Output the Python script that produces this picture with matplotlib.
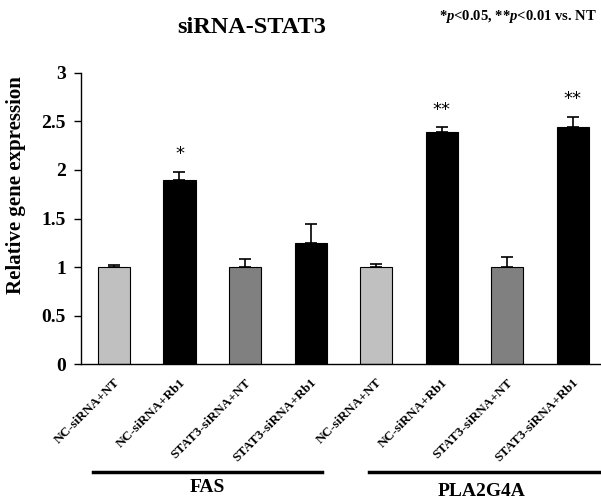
import numpy as np
import matplotlib
matplotlib.use("Agg")
import matplotlib.pyplot as plt

plt.rcParams['font.family'] = ['Liberation Serif', 'DejaVu Serif']
plt.rcParams['font.weight'] = 'bold'
plt.rcParams['mathtext.fontset'] = 'custom'
plt.rcParams['mathtext.it'] = 'Liberation Serif:italic:bold'

labels = ['NC-siRNA+NT', 'NC-siRNA+Rb1', 'STAT3-siRNA+NT', 'STAT3-siRNA+Rb1',
          'NC-siRNA+NT', 'NC-siRNA+Rb1', 'STAT3-siRNA+NT', 'STAT3-siRNA+Rb1']
values = [1.0, 1.90, 1.0, 1.25, 1.0, 2.39, 1.0, 2.44]
errors = [0.02, 0.08, 0.08, 0.19, 0.03, 0.05, 0.10, 0.11]
colors = ['#c0c0c0', '#000000', '#808080', '#000000',
          '#c0c0c0', '#000000', '#808080', '#000000']
stars = ['', '*', '', '', '', '**', '', '**']
groups = ['FAS', 'PLA2G4A']

fig = plt.figure(figsize=(6.01, 5.03), dpi=100)
ax = fig.add_axes([0.135, 0.2763, 0.865, 0.5786])

x = np.arange(len(values))
ax.bar(x, values, width=0.49, color=colors, edgecolor='black', linewidth=0.8,
       yerr=[np.zeros(len(errors)), errors], capsize=4,
       error_kw=dict(elinewidth=1.2, capthick=1.2, ecolor='black'))

for i, s in enumerate(stars):
    if s:
        ax.text(x[i], values[i] + errors[i] + 0.18, s, ha='center', va='center',
                fontsize=13, fontweight='normal', family='DejaVu Sans')

ax.set_xlim(-0.5, 7.43)
ax.set_ylim(0, 3)
ax.set_yticks([0, 0.5, 1, 1.5, 2, 2.5, 3])
ax.set_yticklabels(['0', '0.5', '1', '1.5', '2', '2.5', '3'], fontsize=14, fontweight='bold')
ax.set_xticks(x)
ax.set_xticklabels(labels, rotation=45, ha='right', rotation_mode='anchor',
                   fontsize=9.5, fontweight='bold')
ax.tick_params(axis='x', length=0, pad=9)
ax.tick_params(axis='y', length=5, width=1, direction='out', pad=6)
for side in ['top', 'right']:
    ax.spines[side].set_visible(False)
ax.spines['left'].set_linewidth(1)
ax.spines['bottom'].set_linewidth(1)
fig.text(16 / 601, 1 - 185 / 503, 'Relative gene expression', rotation=90,
         ha='center', va='center', fontsize=15, fontweight='bold')

# group brackets under the tick labels
fig.add_artist(plt.Line2D([93/601, 322/601], [1 - 472/503, 1 - 472/503],
                          color='black', linewidth=2.5))
fig.add_artist(plt.Line2D([369/601, 600/601], [1 - 472/503, 1 - 472/503],
                          color='black', linewidth=2.5))
fig.text(207/601, 1 - 488/503, groups[0], ha='center', va='center', fontsize=14, fontweight='bold')
fig.text(482/601, 1 - 492/503, groups[1], ha='center', va='center', fontsize=14, fontweight='bold')

fig.text(252/601, 1 - 33/503, 'siRNA-STAT3', ha='center', va='baseline', fontsize=17.5, fontweight='bold')
fig.text(597/601, 1 - 20/503, r'*$\mathit{p}$<0.05, **$\mathit{p}$<0.01 vs. NT',
         ha='right', va='baseline', fontsize=10.5, fontweight='bold')

fig.savefig('out.png', dpi=100)
